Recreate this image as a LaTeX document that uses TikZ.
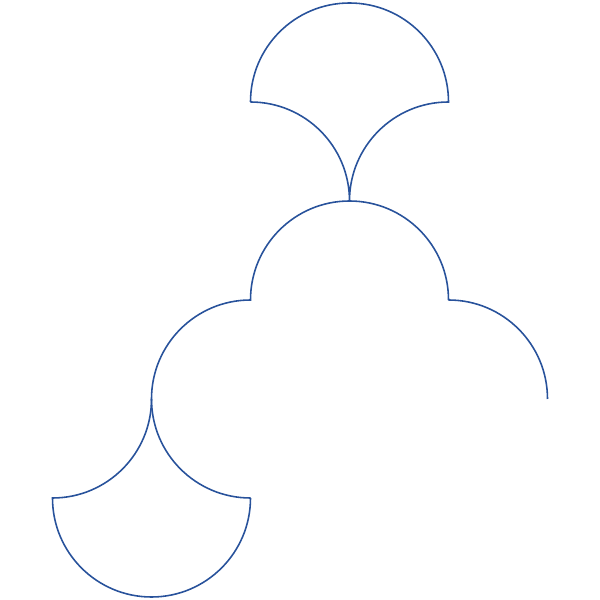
\documentclass[tikz,border=0pt]{standalone}
\usepackage{amsmath,amssymb,amsfonts}
\usepackage{tikz}
\definecolor{scallop}{RGB}{40,82,155}

\begin{document}
\begin{tikzpicture}[edge/.style={scallop, line width=0.45pt}]
			\useasboundingbox (0, 0) rectangle (6, 6);
			\begin{scope}[shift={(3, 3)}, scale=0.99, shift={(-3, -3)}]
			\coordinate (t0) at (2.5, 5);
			\coordinate (m1) at (4.5, 3);
			\coordinate (b0) at (1.5, 2);
			
			\draw[edge] (t0) arc(180:0:1) arc(90:180:1) arc(0:90:1);
			\draw[edge] (m1) arc(0:180:1) arc(90:270:1);
			\draw[edge] (m1) arc(90:0:1);
			\draw[edge] (b0) arc(0:-90:1) arc(180:360:1);
			\end{scope}
		\end{tikzpicture}
\end{document}
